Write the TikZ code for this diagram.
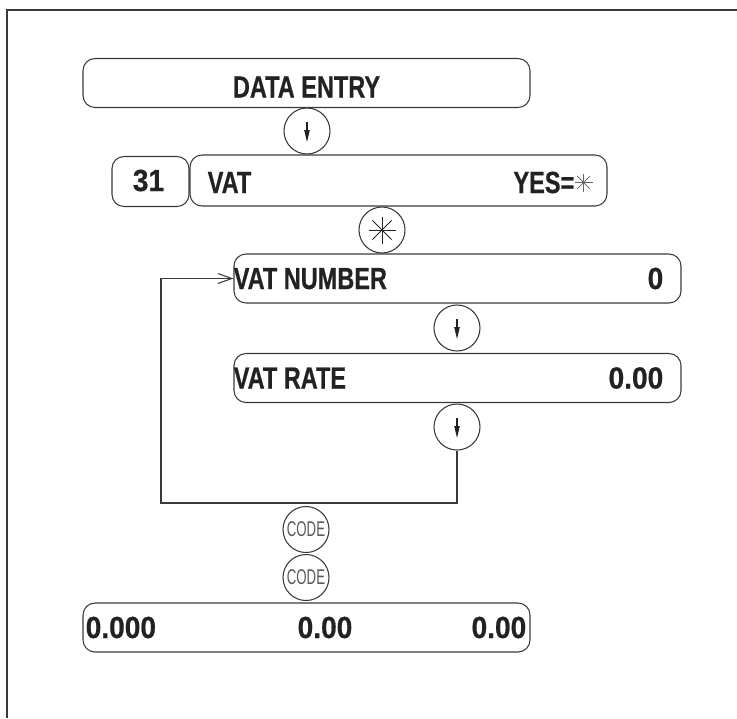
\documentclass[tikz,border=0pt]{standalone}
\usepackage{fontspec}
\setmainfont{Liberation Sans}
\newfontfamily\lcdfont{Liberation Sans}[FakeStretch=0.77,FakeBold=0.6]
\newfontfamily\numfont{Liberation Sans}[FakeStretch=0.92,FakeBold=0.6]
\newfontfamily\keyfont{Liberation Sans}[FakeStretch=0.62]
\usetikzlibrary{arrows.meta,calc}
\definecolor{ink}{HTML}{222222}
\definecolor{rim}{HTML}{3A3A3A}
\tikzset{
  lcd/.style={draw=rim, line width=0.8pt, rounded corners=9pt,
    minimum height=36.75pt, inner sep=0pt},
  key/.style={draw=rim, line width=0.8pt, circle, minimum size=34.5pt, inner sep=0pt},
  txt/.style={text=ink, font=\lcdfont\bfseries\fontsize{22.9}{26}\selectfont,
    inner sep=0pt, text height=15.75pt, text depth=0pt},
  num/.style={txt, font=\numfont\bfseries\fontsize{22.9}{26}\selectfont},
  codetxt/.style={text=black!65, font=\keyfont\fontsize{16}{18}\selectfont, inner sep=0pt},
  >=Stealth,
}

\begin{document}
\begin{tikzpicture}[
  x=0.75pt,y=-0.75pt,
  darrow/.style={-{Triangle[length=9pt,width=4pt]}, line width=0.8pt, draw=ink},
  spoke/.style={line width=0.6pt, draw=ink},
  back/.style={->, >={Straight Barb[length=10.5pt,width=7.5pt]}, line width=0.8pt, draw=rim},
]
\useasboundingbox (0,0) rectangle (737,718);
\draw[rim, line width=0.9pt] (737,10) -| (7,718);

% displays
\node[lcd, minimum width=335.25pt] (entry) at (306.5,83) {};
\node[lcd, minimum width=57.75pt, minimum height=37.5pt] (code31) at (150.5,181.5) {};
\node[lcd, minimum width=312.75pt, minimum height=38.25pt] (vat) at (398.5,180.5) {};
\node[lcd, minimum width=335.25pt] (vatnum) at (457.5,278.5) {};
\node[lcd, minimum width=335.25pt] (vatrate) at (457.5,378) {};
\node[lcd, minimum width=335.25pt] (result) at (306.5,627.5) {};

% keys
\node[key] (down1) at (307,131) {};
\node[key] (star) at (382,230) {};
\node[key] (down2) at (457,328) {};
\node[key] (down3) at (457,427) {};
\node[key] (code1) at (306,529.5) {};
\node[key] (code2) at (306,577.5) {};

% texts
\node[txt] (entrylbl) at ($(entry)+(0,4)$) {DATA ENTRY};
\node[num] (lbl31) at ($(code31)+(-2,-1)$) {31};
\node[txt, anchor=west] (vatlbl) at ($(vat.west)+(18,2)$) {VAT};
\node[txt, anchor=east] (yeslbl) at ($(vat.east)+(-33,2)$) {YES=};
\node[txt, anchor=west] (numlbl) at (vatnum.west) {VAT NUMBER};
\node[num, anchor=east] (numval) at ($(vatnum.east)+(-18,0)$) {0};
\node[txt, anchor=west] (ratelbl) at (vatrate.west) {VAT RATE};
\node[num, anchor=east] (rateval) at ($(vatrate.east)+(-18,0)$) {0.00};
\node[num, anchor=west] (res1) at ($(result.west)+(3,0)$) {0.000};
\node[num] (res2) at ($(result)+(18.5,0)$) {0.00};
\node[num, anchor=east] (res3) at ($(result.east)+(-4,0)$) {0.00};
\node[codetxt] at (code1) {CODE};
\node[codetxt] at (code2) {CODE};

% key symbols
\foreach \k in {down1,down2,down3}
  \draw[darrow] ($(\k)+(0,-9)$) -- ($(\k)+(0,11)$);
\foreach \a in {0,45,90,135}
  \draw[spoke] (star.center) +(\a:13.5) -- +(\a+180:13.5);
\coordinate (yesstar) at ($(yeslbl.east)+(9,0)$);
\foreach \a in {0,45,90,135}
  \draw[spoke, draw=black!60, line width=0.5pt] (yesstar) +(\a:9) -- +(\a+180:9);

% repeat loop
\coordinate (turn) at (161,503);
\draw[back] (down3.south) |- (turn) |- (vatnum.west);
\end{tikzpicture}
\end{document}
